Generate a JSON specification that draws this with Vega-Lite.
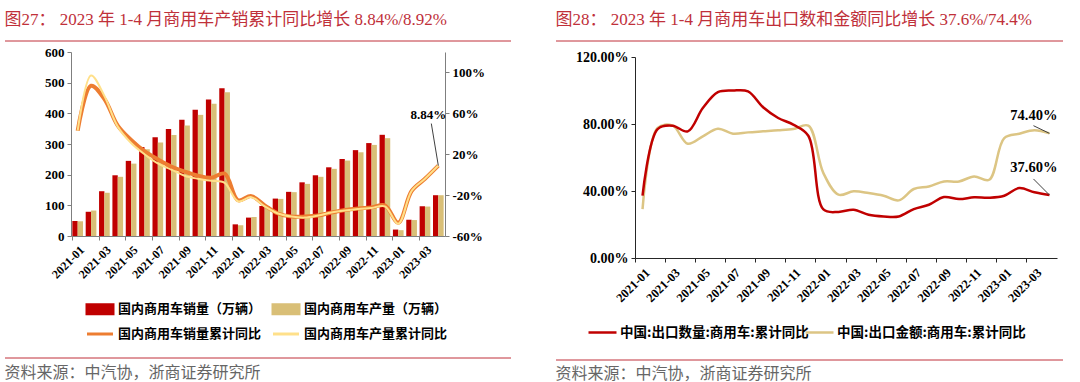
{
  "$schema": "https://vega.github.io/schema/vega-lite/v6.json",
  "background": "white",
  "padding": {"left": 4, "top": 10, "right": 0, "bottom": 0},
  "config": {"view": {"stroke": null}},
  "spacing": 43,
  "resolve": {"scale": {"color": "independent"}, "legend": {"color": "independent"}},
  "hconcat": [
    {
      "spacing": 0,
      "vconcat": [
        {
          "width": 506, "height": 5,
          "title": {"text": "图27：  2023 年 1-4 月商用车产销累计同比增长 8.84%/8.92%", "anchor": "start", "orient": "top", "font": "Liberation Serif, Noto Sans CJK SC", "fontSize": 17, "fontWeight": "normal", "color": "#c0303a", "offset": 12},
          "data": {"values": [{"k": 1}]},
          "mark": {"type": "rule", "color": "#c0303a", "strokeWidth": 1},
          "encoding": {"y": {"datum": 1, "type": "quantitative", "scale": {"domain": [0, 1]}, "axis": null}}
        },
        {
          "width": 440, "height": 184,
          "data": {"values": [
            {"m":"2021-01","sales":49,"prod":48,"salesYoy":0.43,"prodYoy":0.43},
            {"m":"2021-02","sales":79,"prod":83,"salesYoy":0.87,"prodYoy":0.97},
            {"m":"2021-03","sales":146,"prod":141,"salesYoy":0.74,"prodYoy":0.77},
            {"m":"2021-04","sales":198,"prod":193,"salesYoy":0.48,"prodYoy":0.47},
            {"m":"2021-05","sales":245,"prod":236,"salesYoy":0.34,"prodYoy":0.31},
            {"m":"2021-06","sales":290,"prod":283,"salesYoy":0.23,"prodYoy":0.2},
            {"m":"2021-07","sales":322,"prod":305,"salesYoy":0.15,"prodYoy":0.11},
            {"m":"2021-08","sales":349,"prod":329,"salesYoy":0.08,"prodYoy":0.05},
            {"m":"2021-09","sales":379,"prod":360,"salesYoy":0.03,"prodYoy":-0.01},
            {"m":"2021-10","sales":412,"prod":395,"salesYoy":-0.01,"prodYoy":-0.04},
            {"m":"2021-11","sales":445,"prod":431,"salesYoy":-0.03,"prodYoy":-0.06},
            {"m":"2021-12","sales":482,"prod":469,"salesYoy":0.01,"prodYoy":-0.08},
            {"m":"2022-01","sales":38,"prod":35,"salesYoy":-0.25,"prodYoy":-0.26},
            {"m":"2022-02","sales":60,"prod":62,"salesYoy":-0.21,"prodYoy":-0.22},
            {"m":"2022-03","sales":98,"prod":97,"salesYoy":-0.3,"prodYoy":-0.31},
            {"m":"2022-04","sales":122,"prod":121,"salesYoy":-0.38,"prodYoy":-0.38},
            {"m":"2022-05","sales":144,"prod":143,"salesYoy":-0.41,"prodYoy":-0.41},
            {"m":"2022-06","sales":175,"prod":170,"salesYoy":-0.41,"prodYoy":-0.42},
            {"m":"2022-07","sales":198,"prod":193,"salesYoy":-0.4,"prodYoy":-0.4},
            {"m":"2022-08","sales":224,"prod":219,"salesYoy":-0.37,"prodYoy":-0.37},
            {"m":"2022-09","sales":251,"prod":246,"salesYoy":-0.345,"prodYoy":-0.35},
            {"m":"2022-10","sales":280,"prod":273,"salesYoy":-0.33,"prodYoy":-0.335},
            {"m":"2022-11","sales":303,"prod":297,"salesYoy":-0.32,"prodYoy":-0.325},
            {"m":"2022-12","sales":330,"prod":319,"salesYoy":-0.3,"prodYoy":-0.31},
            {"m":"2023-01","sales":21,"prod":19,"salesYoy":-0.47,"prodYoy":-0.48},
            {"m":"2023-02","sales":53,"prod":52,"salesYoy":-0.16,"prodYoy":-0.16},
            {"m":"2023-03","sales":97,"prod":96,"salesYoy":-0.04,"prodYoy":-0.04},
            {"m":"2023-04","sales":133,"prod":133,"salesYoy":0.0884,"prodYoy":0.0892}
          ]},
          "layer": [
            {
              "transform": [{"fold": ["sales", "prod"], "as": ["series", "value"]}],
              "mark": {"type": "bar"},
              "encoding": {
                "x": {"field": "m", "type": "ordinal", "title": null,
                  "scale": {"type": "band", "paddingInner": 0.2, "paddingOuter": 0.1, "range": [66, 440]},
                  "axis": {"values": ["2021-01","2021-03","2021-05","2021-07","2021-09","2021-11","2022-01","2022-03","2022-05","2022-07","2022-09","2022-11","2023-01","2023-03"],
                    "bandPosition": 0, "labelAngle": -45, "labelAlign": "right", "labelBaseline": "top", "labelOffset": 1, "labelPadding": 4,
                    "labelFont": "Liberation Serif", "labelFontWeight": "bold", "labelFontSize": 12, "labelColor": "#000",
                    "tickSize": 4, "tickColor": "#7f7f7f", "domainColor": "#7f7f7f", "grid": false}},
                "xOffset": {"field": "series", "type": "nominal", "sort": ["sales", "prod"]},
                "y": {"field": "value", "type": "quantitative", "title": null,
                  "scale": {"domain": [0, 600], "nice": false},
                  "axis": {"values": [0,100,200,300,400,500,600], "grid": false, "offset": -66,
                    "labelFont": "Liberation Serif", "labelFontWeight": "bold", "labelFontSize": 13, "labelColor": "#000", "labelPadding": 3,
                    "tickSize": 4, "tickColor": "#7f7f7f", "domainColor": "#7f7f7f"}},
                "color": {"field": "series", "type": "nominal",
                  "scale": {"domain": ["sales", "prod", "salesYoy", "prodYoy"], "range": ["#c00000", "#d9bf77", "#ed7d31", "#ffe08a"]},
                  "legend": {"orient": "none", "legendX": 87, "legendY": 260, "direction": "horizontal", "columns": 2, "title": null,
                    "labelExpr": "datum.value == 'sales' ? '国内商用车销量（万辆）' : datum.value == 'prod' ? '国内商用车产量（万辆）' : datum.value == 'salesYoy' ? '国内商用车销量累计同比' : '国内商用车产量累计同比'",
                    "labelFont": "Noto Sans CJK SC", "labelFontWeight": "bold", "labelFontSize": 13, "labelColor": "#000", "labelLimit": 300,
                    "symbolSize": 169, "labelOffset": 10, "columnPadding": 5, "rowPadding": 6,
                    "encode": {"symbols": {"update": {
                      "shape": {"signal": "(datum.value == 'sales' || datum.value == 'prod') ? 'M-2,-0.7H2V0.7H-2Z' : 'M-2,0H2'"},
                      "fill": {"signal": "datum.value == 'sales' ? '#c00000' : datum.value == 'prod' ? '#d9bf77' : 'transparent'"},
                      "stroke": {"signal": "datum.value == 'salesYoy' ? '#ed7d31' : datum.value == 'prodYoy' ? '#ffe08a' : 'transparent'"},
                      "strokeWidth": {"value": 3},
                      "opacity": {"value": 1}
                    }}}}
                }
              }
            },
            {
              "layer": [
                {
                  "transform": [{"fold": ["salesYoy"], "as": ["series", "yoy"]}],
                  "mark": {"type": "line", "interpolate": "catmull-rom", "strokeWidth": 4},
                  "encoding": {
                    "x": {"field": "m", "type": "ordinal"},
                    "y": {"field": "yoy", "type": "quantitative", "title": null,
                      "scale": {"domain": [-0.6, 1.2], "nice": false},
                      "axis": {"orient": "right", "values": [-0.6,-0.4,-0.2,0,0.2,0.4,0.6,0.8,1.0,1.2], "labelExpr": "round(datum.value*100) + '%'", "grid": false,
                        "labelFont": "Liberation Serif", "labelFontWeight": "bold", "labelFontSize": 13, "labelColor": "#000", "labelPadding": 3,
                        "tickSize": 4, "tickColor": "#7f7f7f", "domainColor": "#7f7f7f"}},
                    "color": {"field": "series", "type": "nominal"}
                  }
                },
                {
                  "transform": [{"fold": ["prodYoy"], "as": ["series", "yoy"]}],
                  "mark": {"type": "line", "interpolate": "catmull-rom", "strokeWidth": 2},
                  "encoding": {
                    "x": {"field": "m", "type": "ordinal"},
                    "y": {"field": "yoy", "type": "quantitative", "title": null},
                    "color": {"field": "series", "type": "nominal"}
                  }
                },
                {
                  "data": {"values": [{"m": "2023-04", "yoy": 0.0884, "yoy2": 0.5}]},
                  "mark": {"type": "rule", "color": "#404040", "strokeWidth": 1, "x2Offset": -7},
                  "encoding": {
                    "x": {"field": "m", "type": "ordinal"},
                    "x2": {"field": "m"},
                    "y": {"field": "yoy", "type": "quantitative", "title": null},
                    "y2": {"field": "yoy2"}
                  }
                },
                {
                  "data": {"values": [{"m": "2023-04", "yoy": 0.58, "label": "8.84%"}]},
                  "mark": {"type": "text", "align": "right", "dx": 8, "font": "Liberation Serif", "fontWeight": "bold", "fontSize": 13, "color": "#000"},
                  "encoding": {
                    "x": {"field": "m", "type": "ordinal"},
                    "y": {"field": "yoy", "type": "quantitative", "title": null},
                    "text": {"field": "label"}
                  }
                }
              ]
            }
          ],
          "resolve": {"scale": {"y": "independent"}}
        },
        {
          "width": 506, "height": 77,
          "title": {"text": "资料来源：中汽协，浙商证券研究所", "anchor": "start", "orient": "bottom", "font": "Noto Sans CJK SC", "fontSize": 16, "fontWeight": "normal", "color": "#666666", "offset": 6},
          "data": {"values": [{"k": 1}]},
          "mark": {"type": "rule", "color": "#c0303a", "strokeWidth": 1},
          "encoding": {"y": {"datum": 0, "type": "quantitative", "scale": {"domain": [0, 1]}, "axis": null}}
        }
      ]
    },
    {
      "spacing": 0,
      "vconcat": [
        {
          "width": 507, "height": 9,
          "title": {"text": "图28：  2023 年 1-4 月商用车出口数和金额同比增长 37.6%/74.4%", "anchor": "start", "orient": "top", "font": "Liberation Serif, Noto Sans CJK SC", "fontSize": 17, "fontWeight": "normal", "color": "#c0303a", "offset": 12},
          "data": {"values": [{"k": 1}]},
          "mark": {"type": "rule", "color": "#c0303a", "strokeWidth": 1},
          "encoding": {"y": {"datum": 1, "type": "quantitative", "scale": {"domain": [0, 1]}, "axis": null}}
        },
        {
          "width": 501, "height": 201,
          "data": {"values": [
            {"m":"2021-01","qty":0.372,"amt":0.292},
            {"m":"2021-02","qty":0.77,"amt":0.776},
            {"m":"2021-03","qty":0.79,"amt":0.79},
            {"m":"2021-04","qty":0.756,"amt":0.682},
            {"m":"2021-05","qty":0.895,"amt":0.726},
            {"m":"2021-06","qty":0.99,"amt":0.772},
            {"m":"2021-07","qty":1.0,"amt":0.742},
            {"m":"2021-08","qty":0.995,"amt":0.75},
            {"m":"2021-09","qty":0.9,"amt":0.756},
            {"m":"2021-10","qty":0.836,"amt":0.762},
            {"m":"2021-11","qty":0.796,"amt":0.77},
            {"m":"2021-12","qty":0.73,"amt":0.79},
            {"m":"2022-01","qty":0.29,"amt":0.507},
            {"m":"2022-02","qty":0.275,"amt":0.378},
            {"m":"2022-03","qty":0.288,"amt":0.398},
            {"m":"2022-04","qty":0.258,"amt":0.388},
            {"m":"2022-05","qty":0.248,"amt":0.372},
            {"m":"2022-06","qty":0.248,"amt":0.344},
            {"m":"2022-07","qty":0.292,"amt":0.412},
            {"m":"2022-08","qty":0.318,"amt":0.427},
            {"m":"2022-09","qty":0.364,"amt":0.457},
            {"m":"2022-10","qty":0.352,"amt":0.457},
            {"m":"2022-11","qty":0.362,"amt":0.487},
            {"m":"2022-12","qty":0.36,"amt":0.467},
            {"m":"2023-01","qty":0.372,"amt":0.716},
            {"m":"2023-02","qty":0.418,"amt":0.742},
            {"m":"2023-03","qty":0.392,"amt":0.762},
            {"m":"2023-04","qty":0.376,"amt":0.744}
          ]},
          "layer": [
            {
              "transform": [{"fold": ["amt", "qty"], "as": ["series", "v"]}],
              "mark": {"type": "line", "interpolate": "catmull-rom", "strokeWidth": 2.5},
              "encoding": {
                "x": {"field": "m", "type": "ordinal", "title": null,
                  "scale": {"type": "band", "paddingInner": 0, "paddingOuter": 0, "range": [79, 501]},
                  "axis": {"values": ["2021-01","2021-03","2021-05","2021-07","2021-09","2021-11","2022-01","2022-03","2022-05","2022-07","2022-09","2022-11","2023-01","2023-03"],
                    "bandPosition": 0, "labelAngle": -45, "labelAlign": "right", "labelBaseline": "top", "labelOffset": 1, "labelPadding": 4,
                    "labelFont": "Liberation Serif", "labelFontWeight": "bold", "labelFontSize": 12.5, "labelColor": "#000",
                    "tickSize": 4, "tickColor": "#262626", "domainColor": "#262626", "grid": false}},
                "y": {"field": "v", "type": "quantitative", "title": null,
                  "scale": {"domain": [0, 1.2], "nice": false},
                  "axis": {"values": [0,0.2,0.4,0.6,0.8,1.0,1.2], "format": ".2%", "grid": false, "offset": -79,
                    "labelFont": "Liberation Serif", "labelFontWeight": "bold", "labelFontSize": 14, "labelColor": "#000", "labelPadding": 3,
                    "tickSize": 4, "tickColor": "#262626", "domainColor": "#262626"}},
                "color": {"field": "series", "type": "nominal",
                  "scale": {"domain": ["qty", "amt"], "range": ["#c00000", "#dcc584"]},
                  "legend": {"orient": "none", "legendX": 38, "legendY": 283, "direction": "horizontal", "columns": 2, "title": null,
                    "labelExpr": "datum.value == 'qty' ? '中国:出口数量:商用车:累计同比' : '中国:出口金额:商用车:累计同比'",
                    "labelFont": "Noto Sans CJK SC", "labelFontWeight": "bold", "labelFontSize": 13.5, "labelColor": "#000", "labelLimit": 300,
                    "symbolSize": 196, "labelOffset": 9, "columnPadding": -9,
                    "encode": {"symbols": {"update": {
                      "shape": {"value": "M-2,0H2"},
                      "fill": {"value": "transparent"},
                      "stroke": {"signal": "datum.value == 'qty' ? '#c00000' : '#dcc584'"},
                      "strokeWidth": {"value": 2.5},
                      "opacity": {"value": 1}
                    }}}}
                }
              }
            },
            {
              "data": {"values": [{"m": "2023-04", "v": 0.744, "v2": 0.79}, {"m": "2023-04", "v": 0.376, "v2": 0.472}]},
              "mark": {"type": "rule", "color": "#404040", "strokeWidth": 1, "x2Offset": -16},
              "encoding": {
                "x": {"field": "m", "type": "ordinal"},
                "x2": {"field": "m"},
                "y": {"field": "v", "type": "quantitative"},
                "y2": {"field": "v2"}
              }
            },
            {
              "data": {"values": [{"m": "2023-04", "v": 0.85, "label": "74.40%"}, {"m": "2023-04", "v": 0.538, "label": "37.60%"}]},
              "mark": {"type": "text", "align": "right", "dx": 8, "font": "Liberation Serif", "fontWeight": "bold", "fontSize": 14.5, "color": "#000"},
              "encoding": {
                "x": {"field": "m", "type": "ordinal"},
                "y": {"field": "v", "type": "quantitative"},
                "text": {"field": "label"}
              }
            }
          ]
        },
        {
          "width": 507, "height": 55,
          "title": {"text": "资料来源：中汽协，浙商证券研究所", "anchor": "start", "orient": "bottom", "font": "Noto Sans CJK SC", "fontSize": 16, "fontWeight": "normal", "color": "#666666", "offset": 5},
          "data": {"values": [{"k": 1}]},
          "mark": {"type": "rule", "color": "#c0303a", "strokeWidth": 1},
          "encoding": {"y": {"datum": 0, "type": "quantitative", "scale": {"domain": [0, 1]}, "axis": null}}
        }
      ]
    }
  ]
}
